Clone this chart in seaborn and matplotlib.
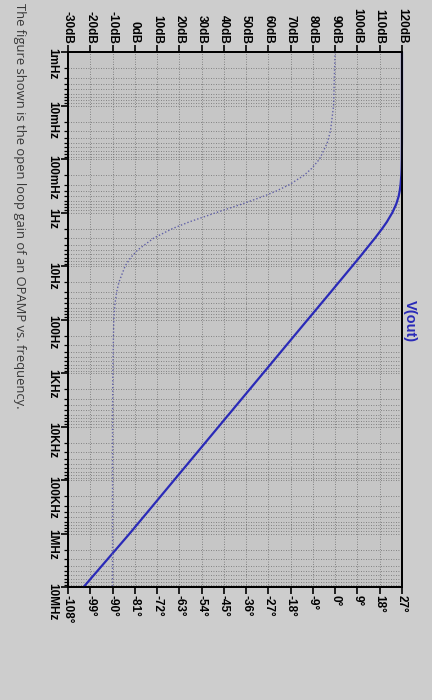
import matplotlib
matplotlib.use("Agg")
import matplotlib.pyplot as plt
import seaborn as sns
import pandas as pd
from matplotlib.ticker import FixedLocator, NullFormatter

freq_hz = [1e-3, 1e-2, 0.03, 0.05, 0.1, 0.15, 0.2, 0.3, 0.4, 0.5, 0.7, 1, 1.5, 2,
           3, 5, 7, 10, 20, 30, 50, 100, 1e3, 1e4, 1e5, 1e6, 1e7]
gain_db = [120.0, 120.0, 119.99, 119.98, 119.93, 119.84, 119.71, 119.37, 118.96,
           118.5, 117.4, 115.7, 113.2, 111.1, 107.9, 103.6, 100.8, 97.7, 91.7,
           88.2, 83.75, 77.7, 57.7, 37.7, 17.7, -2.3, -23.0]
phase_deg = [-0.06, -0.64, -1.9, -3.2, -6.3, -9.5, -12.5, -18.4, -24.0, -29.1,
             -37.9, -48.0, -59.0, -65.8, -73.3, -79.8, -82.7, -84.9, -87.4, -88.3,
             -89.0, -89.5, -89.9, -90.0, -90.0, -90.0, -90.0]

freq_ticks = [1e-3, 1e-2, 1e-1, 1, 10, 100, 1e3, 1e4, 1e5, 1e6, 1e7]
freq_labels = ["1mHz", "10mHz", "100mHz", "1Hz", "10Hz", "100Hz",
               "1KHz", "10KHz", "100KHz", "1MHz", "10MHz"]
gain_ticks = list(range(-30, 121, 10))
gain_labels = [f"{g}dB" for g in gain_ticks]
phase_ticks = list(range(-108, 28, 9))
phase_labels = [f"{p}\u00b0" for p in phase_ticks]

caption = "The figure shown is the open loop gain of an OPAMP vs. frequency."

df = pd.DataFrame({"freq": freq_hz, "gain": gain_db, "phase": phase_deg})

sns.set_theme(style="ticks")
plt.rcParams['font.family'] = ['Liberation Sans', 'DejaVu Sans']

bg = "#cdcdcd"
fig = plt.figure(figsize=(4.32, 7.0), dpi=100, facecolor=bg)
ax = fig.add_axes([0.1574, 0.1614, 0.7731, 0.7643])
ax.set_facecolor("#c6c6c6")

# the picture is the LTspice plot turned a quarter clockwise:
# frequency runs down the left, gain along the top, phase along the bottom
ax.set_yscale("log")
ax.set_ylim(1e7, 1e-3)
ax.set_xlim(-30, 120)

ax2 = ax.twiny()
ax2.set_xlim(-108, 27)

sns.lineplot(data=df, x="phase", y="freq", orient="y", estimator=None, ax=ax2,
             color="#6262a8", linewidth=1.0, linestyle=(0, (1, 1.5)), legend=False)
sns.lineplot(data=df, x="gain", y="freq", orient="y", estimator=None, ax=ax,
             color="#2a2ab8", linewidth=1.6, legend=False, clip_on=False, zorder=5)
ax2.set_ylim(1e7, 1e-3)

ax.xaxis.tick_top()
ax.set_xticks(gain_ticks)
ax.set_xticklabels(gain_labels, rotation=-90, fontsize=8.5, fontweight="bold")
ax.set_yticks(freq_ticks)
ax.set_yticklabels(freq_labels, rotation=-90, fontsize=8.5, fontweight="bold")
minors = [m * d for d in freq_ticks[:-1] for m in range(2, 10)]
ax.yaxis.set_minor_locator(FixedLocator(minors))
ax.yaxis.set_minor_formatter(NullFormatter())
ax.tick_params(axis="x", which="major", length=5, width=1.2, pad=1, colors="black")
ax.tick_params(axis="y", which="major", length=5, width=1.2, pad=2, colors="black")
ax.tick_params(axis="y", which="minor", length=3, width=0.9, colors="black")
ax.set_xlabel("")
ax.set_ylabel("")

ax2.xaxis.tick_bottom()
ax2.set_xticks(phase_ticks)
ax2.set_xticklabels(phase_labels, rotation=-90, fontsize=8.5, fontweight="bold")
ax2.tick_params(axis="x", length=5, width=1.2, pad=1, colors="black")
ax2.set_xlabel("")
ax2.set_ylabel("")

grid_kw = dict(color="#6c6c6c", linewidth=0.6, linestyle=(0, (1, 2)))
ax.grid(axis="x", which="major", **grid_kw)
ax.grid(axis="y", which="both", **grid_kw)

for a in (ax, ax2):
    for s in a.spines.values():
        s.set_color("black")
        s.set_linewidth(1.3)

fig.text(410 / 432, 1 - 321 / 700, "V(out)", rotation=-90, ha="center", va="center",
         color="#2a2ab8", fontsize=10.5, fontweight="bold")
fig.text(19 / 432, 1 - 3 / 700, caption, rotation=-90, ha="center", va="top",
         color="#383838", fontsize=9.4, family=["Open Sans", "DejaVu Sans"])

fig.savefig("out.png", dpi=100, facecolor=bg)
